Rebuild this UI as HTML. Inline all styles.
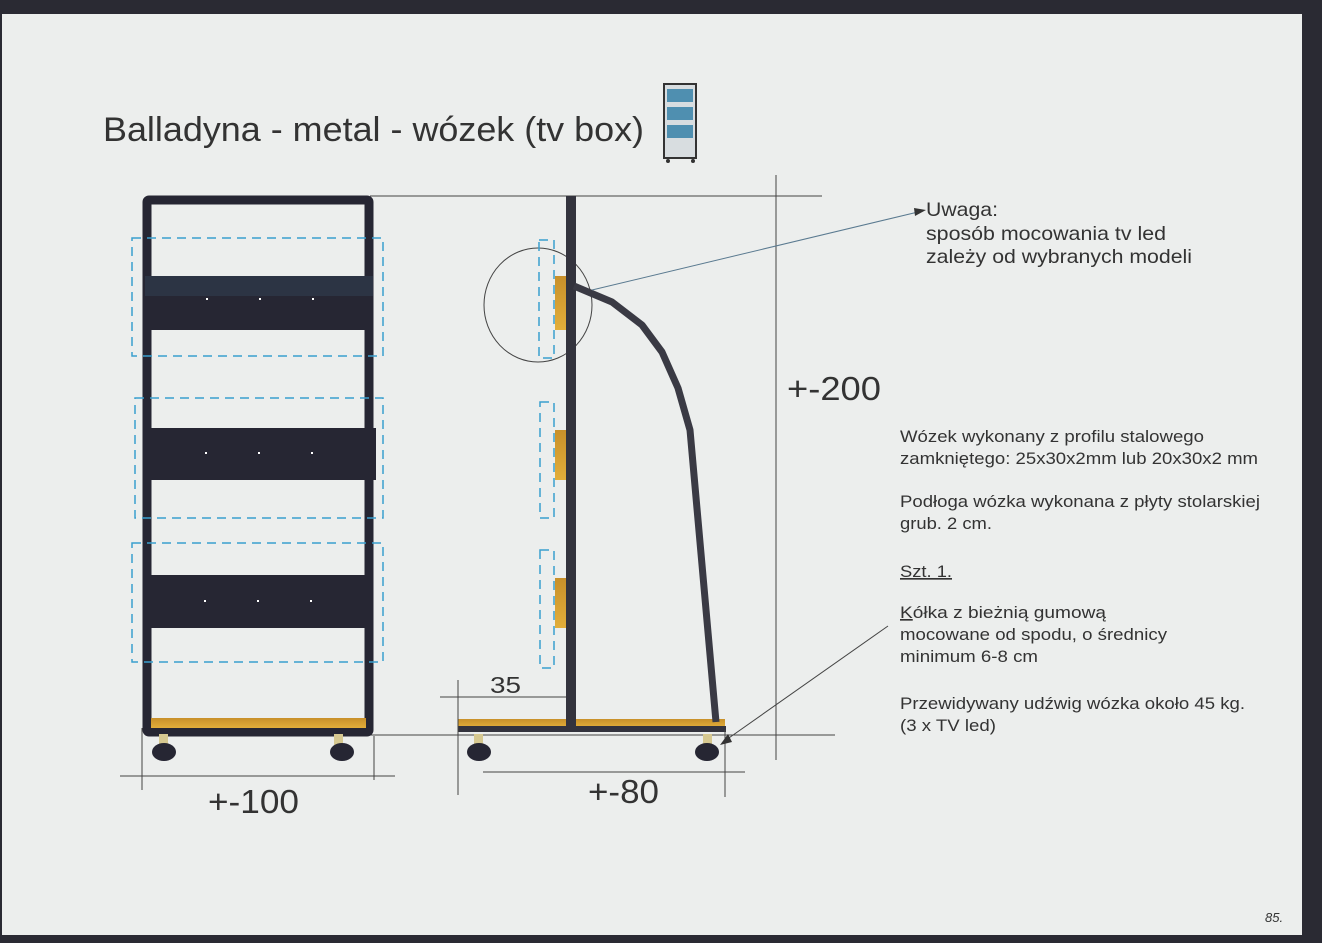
<!DOCTYPE html>
<html><head><meta charset="utf-8"><style>
html,body{margin:0;padding:0;background:#2a2a33;}
svg{display:block;}
text{font-family:"Liberation Sans",sans-serif;fill:#333;}
</style></head><body>
<svg width="1322" height="943" viewBox="0 0 1322 943" xmlns="http://www.w3.org/2000/svg">
<defs>
<linearGradient id="wood" x1="0" y1="0" x2="0" y2="1"><stop offset="0" stop-color="#c8902a"/><stop offset="1" stop-color="#e2ae3a"/></linearGradient>
</defs>
<rect x="0" y="0" width="1322" height="943" fill="#2a2a33"/>
<rect x="2" y="14" width="1300" height="921" fill="#eceeed"/>

<text x="103" y="141" font-size="34" textLength="541" lengthAdjust="spacingAndGlyphs">Balladyna - metal - wózek (tv box)</text>
<g>
<rect x="664" y="84" width="32" height="74" fill="#d8dde0" stroke="#333" stroke-width="2"/>
<rect x="667" y="89" width="26" height="13" fill="#4f8fb0"/>
<rect x="667" y="107" width="26" height="13" fill="#4f8fb0"/>
<rect x="667" y="125" width="26" height="13" fill="#4f8fb0"/>
<circle cx="668" cy="161" r="2" fill="#333"/><circle cx="693" cy="161" r="2" fill="#333"/>
</g>

<line x1="370" y1="196" x2="822" y2="196" stroke="#444" stroke-width="1"/>
<line x1="370" y1="735" x2="835" y2="735" stroke="#444" stroke-width="1"/>
<rect x="147" y="200" width="222" height="532" fill="none" stroke="#262633" stroke-width="9" rx="2"/>
<rect x="145" y="276" width="228" height="54" fill="#262633"/>
<rect x="145" y="276" width="228" height="20" fill="#2c3444"/>
<rect x="145" y="428" width="231" height="52" fill="#262633"/>
<rect x="145" y="575" width="228" height="53" fill="#262633"/>
<g fill="#fff">
<rect x="206" y="298" width="2" height="2"/><rect x="259" y="298" width="2" height="2"/><rect x="312" y="298" width="2" height="2"/>
<rect x="205" y="452" width="2" height="2"/><rect x="258" y="452" width="2" height="2"/><rect x="311" y="452" width="2" height="2"/>
<rect x="204" y="600" width="2" height="2"/><rect x="257" y="600" width="2" height="2"/><rect x="310" y="600" width="2" height="2"/>
</g>
<rect x="151" y="718" width="215" height="10" fill="url(#wood)"/>
<g fill="none" stroke="#3a9fcf" stroke-width="1.5" stroke-dasharray="9,6">
<rect x="132" y="238" width="251" height="118"/>
<rect x="135" y="398" width="248" height="120"/>
<rect x="132" y="543" width="251" height="119"/>
</g>
<g>
<rect x="159" y="734" width="9" height="14" fill="#d6c890"/>
<ellipse cx="164" cy="752" rx="12" ry="9" fill="#262633"/>
<rect x="334" y="734" width="9" height="14" fill="#d6c890"/>
<ellipse cx="342" cy="752" rx="12" ry="9" fill="#262633"/>
</g>
<g stroke="#444" stroke-width="1">
<line x1="142" y1="728" x2="142" y2="790"/>
<line x1="374" y1="736" x2="374" y2="780"/>
<line x1="120" y1="776" x2="395" y2="776"/>
</g>
<text x="208" y="813" font-size="33" textLength="91" lengthAdjust="spacingAndGlyphs">+-100</text>

<ellipse cx="538" cy="305" rx="54" ry="57" fill="none" stroke="#444" stroke-width="1"/>
<g fill="none" stroke="#3a9fcf" stroke-width="1.5" stroke-dasharray="9,6">
<rect x="539" y="240" width="15" height="118"/>
<rect x="540" y="402" width="14" height="116"/>
<rect x="540" y="550" width="14" height="118"/>
</g>
<rect x="555" y="276" width="11" height="54" fill="url(#wood)"/>
<rect x="555" y="430" width="11" height="50" fill="url(#wood)"/>
<rect x="555" y="578" width="11" height="50" fill="url(#wood)"/>
<rect x="458" y="719" width="267" height="8" fill="url(#wood)"/>
<rect x="458" y="726" width="268" height="6" fill="#33333d"/>
<rect x="566" y="196" width="10" height="534" fill="#33333d"/>
<polyline points="574,286 612,302 642,325 662,352 678,388 690,430 716,722" fill="none" stroke="#3a3a44" stroke-width="7" stroke-linejoin="round"/>
<rect x="474" y="734" width="9" height="14" fill="#d6c890"/>
<ellipse cx="479" cy="752" rx="12" ry="9" fill="#262633"/>
<rect x="703" y="734" width="9" height="14" fill="#d6c890"/>
<ellipse cx="707" cy="752" rx="12" ry="9" fill="#262633"/>
<g stroke="#444" stroke-width="1">
<line x1="458" y1="680" x2="458" y2="795"/>
<line x1="440" y1="697" x2="566" y2="697"/>
<line x1="483" y1="772" x2="745" y2="772"/>
<line x1="725" y1="730" x2="725" y2="797"/>
<line x1="776" y1="175" x2="776" y2="760"/>
</g>
<text x="490" y="693" font-size="23" textLength="31" lengthAdjust="spacingAndGlyphs">35</text>
<text x="588" y="803" font-size="33" textLength="71" lengthAdjust="spacingAndGlyphs">+-80</text>
<text x="787" y="400" font-size="33" textLength="94" lengthAdjust="spacingAndGlyphs">+-200</text>

<line x1="592" y1="290" x2="918" y2="212" stroke="#5a7a90" stroke-width="1"/>
<polygon points="926,210 914,208 915,216" fill="#333"/>
<line x1="888" y1="626" x2="726" y2="740" stroke="#444" stroke-width="1"/>
<polygon points="720,745 728,734 732,742" fill="#333"/>

<g font-size="19.5">
<text x="926" y="216" textLength="72" lengthAdjust="spacingAndGlyphs">Uwaga:</text>
<text x="926" y="240" textLength="240" lengthAdjust="spacingAndGlyphs">sposób mocowania tv led</text>
<text x="926" y="263" textLength="266" lengthAdjust="spacingAndGlyphs">zależy od wybranych modeli</text>
</g>
<g font-size="16.5">
<text x="900" y="442" textLength="304" lengthAdjust="spacingAndGlyphs">Wózek wykonany z profilu stalowego</text>
<text x="900" y="464" textLength="358" lengthAdjust="spacingAndGlyphs">zamkniętego: 25x30x2mm lub 20x30x2 mm</text>
<text x="900" y="507" textLength="360" lengthAdjust="spacingAndGlyphs">Podłoga wózka wykonana z płyty stolarskiej</text>
<text x="900" y="529" textLength="92" lengthAdjust="spacingAndGlyphs">grub. 2 cm.</text>
<text x="900" y="577" text-decoration="underline" textLength="52" lengthAdjust="spacingAndGlyphs">Szt. 1.</text>
<text x="900" y="618" textLength="206" lengthAdjust="spacingAndGlyphs"><tspan text-decoration="underline">K</tspan>ółka  z bieżnią gumową</text>
<text x="900" y="640" textLength="267" lengthAdjust="spacingAndGlyphs">mocowane od spodu, o średnicy</text>
<text x="900" y="662" textLength="138" lengthAdjust="spacingAndGlyphs">minimum 6-8 cm</text>
<text x="900" y="709" textLength="345" lengthAdjust="spacingAndGlyphs">Przewidywany udźwig wózka około 45 kg.</text>
<text x="900" y="731" textLength="96" lengthAdjust="spacingAndGlyphs">(3 x TV led)</text>
</g>
<text x="1265" y="922" font-size="13" fill="#8a8f95" font-style="italic">85.</text>
</svg>
</body></html>
